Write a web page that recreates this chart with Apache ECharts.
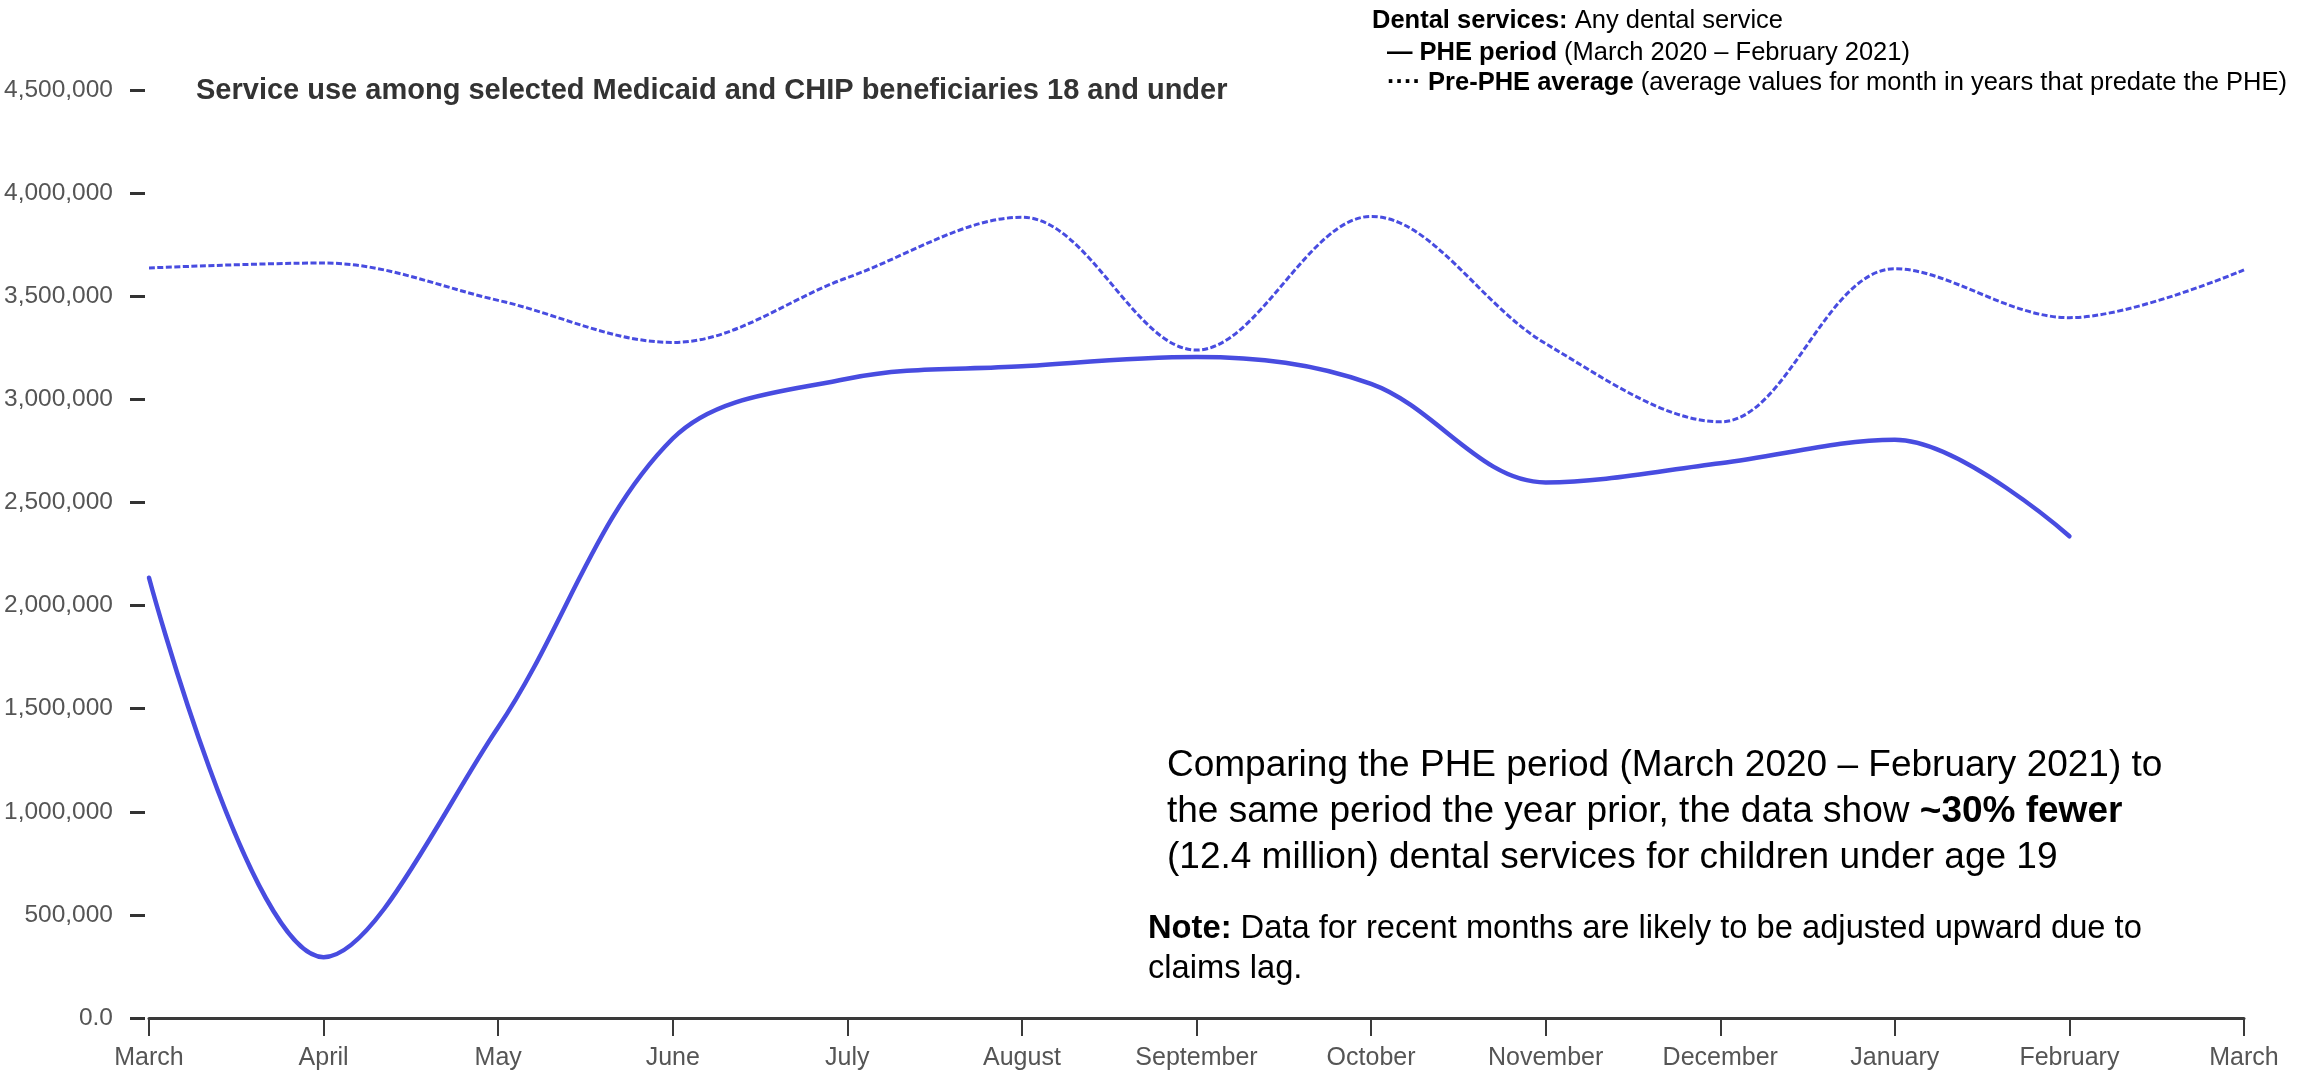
<!DOCTYPE html>
<html>
<head>
    <meta charset="utf-8">
    <title>Dental services</title>
    <script src="https://cdn.jsdelivr.net/npm/echarts@6/dist/echarts.min.js"></script>
    <style>
        html, body { margin: 0; padding: 0; background: #fff; }
    </style>
</head>
<body>
<div id="main" style="width:2308px;height:1071px"></div>
<script type="text/javascript">
    // months on the x axis
    var months = ['March', 'April', 'May', 'June', 'July', 'August', 'September',
        'October', 'November', 'December', 'January', 'February', 'March'];
    // PHE period (March 2020 - February 2021)
    var phePeriod = [2135000, 295000, 1410000, 2810000, 3100000, 3160000, 3205000,
        3075000, 2597000, 2690000, 2804000, 2336000, null];
    // Pre-PHE average
    var prePheAverage = [3637000, 3661000, 3480000, 3276000, 3590000, 3883000, 3239000,
        3887000, 3270000, 2891000, 3633000, 3396000, 3628000];

    var lineColor = '#484ce0';
    var fontFamily = 'Liberation Sans, Arial, sans-serif';

    var myChart = echarts.init(document.getElementById('main'));

    option = {
        animation: false,
        grid: {
            left: 149,
            right: 64,
            top: 90,
            bottom: 50
        },
        xAxis: {
            type: 'category',
            data: months,
            boundaryGap: false,
            axisLine: { lineStyle: { color: '#3a3a3a', width: 3 } },
            axisTick: { length: 18, lineStyle: { color: '#3a3a3a', width: 2 } },
            axisLabel: {
                color: '#555',
                fontSize: 25,
                fontFamily: fontFamily,
                margin: 28,
                interval: 0
            },
            splitLine: { show: false }
        },
        yAxis: {
            type: 'value',
            min: 0,
            max: 4500000,
            interval: 500000,
            offset: 4,
            axisLine: { show: false },
            axisTick: { show: true, length: 15, lineStyle: { color: '#333', width: 3 } },
            axisLabel: {
                color: '#555',
                fontSize: 24.5,
                fontFamily: fontFamily,
                margin: 32,
                formatter: function (v) {
                    return v === 0 ? '0.0' : v.toLocaleString('en-US');
                }
            },
            splitLine: { show: false }
        },
        series: [{
            name: 'Pre-PHE average',
            type: 'line',
            data: prePheAverage,
            smooth: 0.35,
            showSymbol: false,
            lineStyle: { color: lineColor, width: 3, type: [6, 2.5] }
        }, {
            name: 'PHE period',
            type: 'line',
            data: phePeriod,
            smooth: 0.35,
            showSymbol: false,
            lineStyle: { color: lineColor, width: 4.5, cap: 'round' }
        }],
        graphic: [
            // chart subtitle
            {
                type: 'text', left: 196, top: 76,
                style: {
                    text: 'Service use among selected Medicaid and CHIP beneficiaries 18 and under',
                    font: 'bold 29px ' + fontFamily, fill: '#333'
                }
            },
            // legend block
            {
                type: 'text', left: 1372, top: 8,
                style: {
                    text: '{b|Dental services:} Any dental service',
                    font: '25.5px ' + fontFamily, fill: '#000',
                    rich: { b: { fontWeight: 'bold', fontSize: 25.5, fontFamily: fontFamily } }
                }
            },
            {
                type: 'text', left: 1387, top: 40,
                style: {
                    text: '{b|— PHE period} (March 2020 – February 2021)',
                    font: '25.5px ' + fontFamily, fill: '#000',
                    rich: { b: { fontWeight: 'bold', fontSize: 25.5, fontFamily: fontFamily } }
                }
            },
            {
                type: 'text', left: 1387, top: 70,
                style: {
                    text: '{b|···· Pre-PHE average} (average values for month in years that predate the PHE)',
                    font: '25.5px ' + fontFamily, fill: '#000',
                    rich: { b: { fontWeight: 'bold', fontSize: 25.5, fontFamily: fontFamily } }
                }
            },
            // annotation
            {
                type: 'text', left: 1167, top: 743,
                style: {
                    text: 'Comparing the PHE period (March 2020 – February 2021) to\n' +
                        'the same period the year prior, the data show {b|~30% fewer}\n' +
                        '(12.4 million) dental services for children under age 19',
                    font: '37px ' + fontFamily, fill: '#000', lineHeight: 46,
                    rich: { b: { fontWeight: 'bold', fontSize: 37, fontFamily: fontFamily, lineHeight: 46 } }
                }
            },
            {
                type: 'text', left: 1148, top: 909,
                style: {
                    text: '{b|Note:} Data for recent months are likely to be adjusted upward due to\nclaims lag.',
                    font: '32.7px ' + fontFamily, fill: '#000', lineHeight: 40,
                    rich: { b: { fontWeight: 'bold', fontSize: 32.7, fontFamily: fontFamily, lineHeight: 40 } }
                }
            }
        ]
    };
    myChart.setOption(option);
</script>
</body>
</html>
